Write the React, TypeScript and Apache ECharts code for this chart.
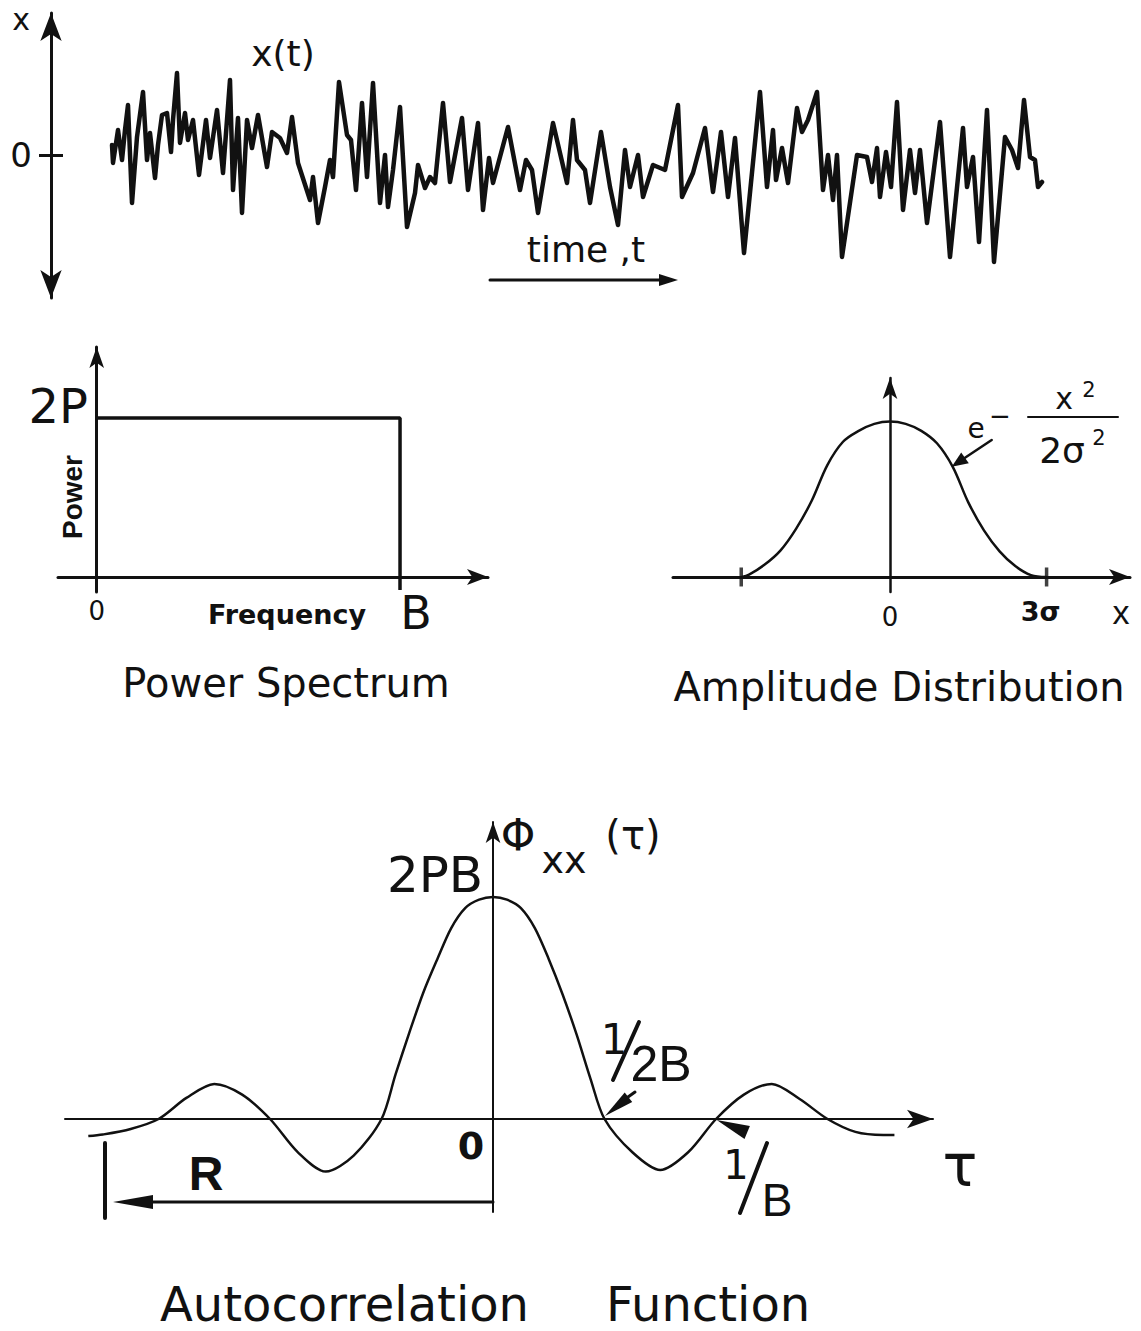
import React, { useEffect, useRef } from 'react';
import * as echarts from 'echarts';

// ---- Top panel: noise record x(t) (time in px-like units, amplitude around 0)
const noiseT = [2, 3, 8, 12, 15, 18, 22, 27, 33, 37, 40, 45, 48, 52, 57, 61, 63, 67, 70, 75, 78, 83, 89, 96, 100, 107, 113, 120, 123, 128, 132, 137, 142, 148, 157, 162, 170, 177, 182, 188, 200, 203, 208, 215, 220, 223, 229, 237, 241, 246, 252, 257, 263, 270, 275, 278, 283, 290, 297, 305, 308, 315, 320, 325, 333, 340, 352, 358, 368, 373, 379, 383, 398, 410, 416, 422, 428, 443, 457, 463, 467, 475, 480, 491, 500, 508, 515, 520, 528, 533, 543, 555, 568, 572, 583, 595, 603, 611, 618, 625, 634, 650, 657, 663, 666, 672, 678, 687, 692, 698, 707, 713, 718, 723, 727, 732, 747, 757, 762, 767, 770, 776, 781, 787, 793, 800, 805, 810, 817, 830, 840, 853, 857, 863, 869, 877, 884, 895, 902, 908, 914, 920, 925, 928, 932];
const noiseX = [10, -8, 25, -5, 25, 50, -48, 18, 63, -5, 22, -23, 10, 40, 42, 3, 35, 82, 12, 42, 15, 35, -20, 35, -3, 45, -18, 75, -35, 37, -58, 35, 7, 40, -12, 23, 17, 2, 38, -8, -45, -22, -68, -32, -5, -22, 73, 20, 15, -35, 52, -22, 72, -48, 0, -52, -15, 48, -72, -38, -10, -33, -22, -28, 52, -27, 37, -35, 32, -55, -3, -28, 28, -35, -5, -15, -58, 32, -28, 35, -5, -15, -48, 23, -32, -70, 5, -32, 0, -42, -10, -15, 50, -42, -18, 27, -37, 23, -42, 17, -98, 63, -32, 25, -25, 7, -28, 47, 23, 35, 63, -35, 0, -45, 0, -102, 0, -2, -27, 7, -42, 3, -32, 53, -55, 5, -38, 5, -68, 33, -102, 27, -32, -2, -87, 45, -107, 18, 5, -13, 55, -2, -5, -32, -27];
const noiseTickValues = [0];
const noiseTickLabels = ['0'];

// ---- Power spectrum (frequency in units of B, power in units of P)
const specFreq = [0, 1, 1];
const specPower = [2, 2, 0];
const specFreqTicks = [0, 1];
const specFreqLabels = ['0', 'B'];
const specPowerTicks = [2];
const specPowerLabels = ['2P'];

// ---- Amplitude distribution (x in units of sigma, density normalised to the peak)
const ampX = [-2.84, -2.7, -2.4, -2.1, -1.8, -1.5, -1.2, -0.9, -0.6, -0.3, 0, 0.3, 0.6, 0.9, 1.2, 1.5, 1.8, 2.1, 2.4, 2.7, 3.0];
const ampDensity = [0, 0.015, 0.08, 0.17, 0.31, 0.49, 0.72, 0.87, 0.94, 0.985, 1.0, 0.985, 0.94, 0.86, 0.71, 0.48, 0.3, 0.165, 0.07, 0.012, 0];
const ampTickMarks = [-2.85, 3];
const ampTickValues = [0, 3];
const ampTickLabels = ['0', '3σ'];

// ---- Autocorrelation (tau in units of 1/2B, phi normalised to 2PB)
const acTau = [-3.63, -3.5, -3.25, -3.0, -2.75, -2.5, -2.25, -2.0, -1.75, -1.5, -1.25, -1.0, -0.875, -0.75, -0.625, -0.5, -0.375, -0.25, -0.125, 0, 0.125, 0.25, 0.375, 0.5, 0.625, 0.75, 0.875, 1.0, 1.25, 1.5, 1.75, 2.0, 2.25, 2.5, 2.75, 3.0, 3.25, 3.5, 3.6];
const acPhi = [-0.077, -0.07, -0.045, 0, 0.095, 0.158, 0.11, 0, -0.15, -0.237, -0.165, 0, 0.2, 0.39, 0.57, 0.72, 0.86, 0.95, 0.988, 1.0, 0.988, 0.95, 0.86, 0.72, 0.56, 0.38, 0.18, 0, -0.15, -0.23, -0.15, 0, 0.11, 0.158, 0.09, 0, -0.058, -0.072, -0.072];

const BLACK = '#111111';
const DEJA = '"DejaVu Sans", "Liberation Sans", sans-serif';
const LIB = '"Liberation Sans", Arial, sans-serif';

const txt = (text: string, x: number, y: number, fontSize: number, opts: any = {}) => ({
  type: 'text',
  x,
  y,
  rotation: opts.rotation || 0,
  style: {
    text,
    fill: BLACK,
    fontSize,
    fontFamily: opts.family || DEJA,
    fontWeight: opts.weight || 'normal',
    align: opts.align || 'center',
    verticalAlign: 'middle',
  },
});
const seg = (x1: number, y1: number, x2: number, y2: number, w: number) => ({
  type: 'line',
  shape: { x1, y1, x2, y2 },
  style: { stroke: BLACK, lineWidth: w, lineCap: 'round' },
});
const tri = (pts: number[][]) => ({ type: 'polygon', shape: { points: pts }, style: { fill: BLACK } });

const pick = (vals: number[], labels: string[]) => (v: number) => {
  const i = vals.findIndex((d) => Math.abs(d - v) < 1e-6);
  return i >= 0 ? labels[i] : '';
};

export default function App() {
  const ref = useRef<HTMLDivElement>(null);
  useEffect(() => {
    document.body.style.margin = '0';
    if (!ref.current) return;
    const chart = echarts.init(ref.current, undefined, { renderer: 'svg' });
    const axisLineStyle = (w: number) => ({ color: BLACK, width: w });
    const option: any = {
      animation: false,
      backgroundColor: '#ffffff',
      grid: [
        { left: 110, top: 13, width: 935, height: 285, outerBoundsMode: 'none', containLabel: false },
        { left: 58, top: 347, width: 430, height: 245, outerBoundsMode: 'none', containLabel: false },
        { left: 673, top: 378, width: 457, height: 214, outerBoundsMode: 'none', containLabel: false },
        { left: 65, top: 822, width: 868, height: 390, outerBoundsMode: 'none', containLabel: false },
      ],
      xAxis: [
        { gridIndex: 0, type: 'value', min: 0, max: 935, show: false },
        {
          gridIndex: 1, type: 'value', min: -0.1276, max: 1.29,
          axisLine: { show: true, onZero: true, lineStyle: axisLineStyle(3), symbol: ['none', 'arrow'], symbolSize: [12, 21] },
          axisTick: { show: true, customValues: [1], length: 13, lineStyle: { color: BLACK, width: 3.5 } },
          axisLabel: {
            show: true, customValues: specFreqTicks, margin: -2,
            formatter: (v: number) => {
              const l = pick(specFreqTicks, specFreqLabels)(v);
              return l === 'B' ? '{b|' + l + '}' : '{s|' + l + '}';
            },
            rich: {
              s: { fontSize: 26, fontFamily: DEJA, color: BLACK, padding: [8, 0, 0, 0] },
              b: { fontSize: 46, fontFamily: DEJA, color: BLACK, padding: [0, 0, 0, 32] },
            },
          },
          splitLine: { show: false },
        },
        {
          gridIndex: 2, type: 'value', min: -4.157, max: 4.598,
          axisLine: { show: true, onZero: true, lineStyle: axisLineStyle(3), symbol: ['none', 'arrow'], symbolSize: [12, 21] },
          axisTick: { show: false },
          axisLabel: {
            show: true, customValues: ampTickValues, margin: 6,
            formatter: (v: number) => {
              const l = pick(ampTickValues, ampTickLabels)(v);
              return l === '0' ? '{n|' + l + '}' : '{b|' + l + '}';
            },
            rich: {
              n: { fontSize: 26, fontFamily: DEJA, color: BLACK, padding: [6, 0, 0, 0] },
              b: { fontSize: 27, fontFamily: DEJA, fontWeight: 'bold', color: BLACK, padding: [0, 12, 0, 0] },
            },
          },
          splitLine: { show: false },
        },
        {
          gridIndex: 3, type: 'value', min: -3.839, max: 3.946,
          axisLine: { show: true, onZero: true, lineStyle: axisLineStyle(2), symbol: ['none', 'arrow'], symbolSize: [14, 26] },
          axisTick: { show: false },
          axisLabel: { show: false },
          splitLine: { show: false },
        },
      ],
      yAxis: [
        {
          gridIndex: 0, type: 'value', min: -143, max: 142, position: 'left', offset: 59,
          axisLine: { show: true, onZero: false, lineStyle: axisLineStyle(3), symbol: ['arrow', 'arrow'], symbolSize: [16, 28] },
          axisTick: { show: true, customValues: noiseTickValues, length: 12, lineStyle: { color: BLACK, width: 3 } },
          axisLabel: {
            show: true, customValues: noiseTickValues, margin: 19, fontSize: 34, fontFamily: DEJA, color: BLACK,
            formatter: pick(noiseTickValues, noiseTickLabels),
          },
          splitLine: { show: false },
        },
        {
          gridIndex: 0, type: 'value', min: -143, max: 142, position: 'left', offset: 59,
          axisLine: { show: false, onZero: false },
          axisTick: { show: true, inside: true, customValues: noiseTickValues, length: 12, lineStyle: { color: BLACK, width: 3 } },
          axisLabel: { show: false },
          splitLine: { show: false },
        },
        {
          gridIndex: 1, type: 'value', min: -0.189, max: 2.893,
          axisLine: { show: true, onZero: true, lineStyle: axisLineStyle(3), symbol: ['none', 'arrow'], symbolSize: [11, 21] },
          axisTick: { show: false },
          axisLabel: {
            show: true, customValues: specPowerTicks, margin: -30,
            formatter: (v: number) => '{p|' + pick(specPowerTicks, specPowerLabels)(v) + '}',
            rich: { p: { fontSize: 48, fontFamily: DEJA, color: BLACK, padding: [0, 0, 24, 0] } },
          },
          splitLine: { show: false },
        },
        {
          gridIndex: 2, type: 'value', min: -0.0966, max: 1.28,
          axisLine: { show: true, onZero: true, lineStyle: axisLineStyle(2.5), symbol: ['none', 'arrow'], symbolSize: [11, 21] },
          axisTick: { show: false },
          axisLabel: { show: false },
          splitLine: { show: false },
        },
        {
          gridIndex: 3, type: 'value', min: -0.419, max: 1.338,
          axisLine: { show: true, onZero: true, lineStyle: axisLineStyle(2), symbol: ['none', 'arrow'], symbolSize: [11, 21] },
          axisTick: { show: false },
          axisLabel: { show: false },
          splitLine: { show: false },
        },
      ],
      series: [
        {
          type: 'line', xAxisIndex: 0, yAxisIndex: 0, showSymbol: false, silent: true,
          data: noiseT.map((t, i) => [t, noiseX[i]]),
          lineStyle: { color: BLACK, width: 4.5, join: 'round', cap: 'round' },
        },
        {
          type: 'line', xAxisIndex: 1, yAxisIndex: 2, showSymbol: false, silent: true,
          data: specFreq.map((f, i) => [f, specPower[i]]),
          lineStyle: { color: BLACK, width: 3.5 },
        },
        {
          type: 'line', xAxisIndex: 2, yAxisIndex: 3, showSymbol: false, silent: true, smooth: 0.35,
          data: ampX.map((x, i) => [x, ampDensity[i]]),
          lineStyle: { color: BLACK, width: 2.5 },
        },
        {
          type: 'scatter', xAxisIndex: 2, yAxisIndex: 3, silent: true, symbol: 'rect', symbolSize: [3.5, 19],
          data: ampTickMarks.map((x) => [x, 0]),
          itemStyle: { color: BLACK },
        },
        {
          type: 'line', xAxisIndex: 3, yAxisIndex: 4, showSymbol: false, silent: true, smooth: 0.3,
          data: acTau.map((t, i) => [t, acPhi[i]]),
          lineStyle: { color: BLACK, width: 2.5 },
        },
      ],
      graphic: [
        // top panel
        txt('x', 21, 19, 30),
        txt('x(t)', 283, 53, 36),
        txt('time ,t', 586, 249, 36),
        seg(490, 280, 662, 280, 3),
        tri([[678, 280], [659, 274], [659, 286]]),
        // power spectrum
        txt('Power', 72, 497, 28, { family: LIB, weight: 'bold', rotation: Math.PI / 2 }),
        txt('Frequency', 287, 614, 27, { weight: 'bold' }),
        txt('Power Spectrum', 286, 683, 40),
        // amplitude distribution
        txt('x', 1121, 612, 34, { family: LIB }),
        txt('e', 976, 428, 28),
        txt('−', 1000, 416, 26),
        seg(1028, 417, 1118, 417, 2),
        txt('x', 1064, 398, 30),
        txt('2', 1089, 390, 21),
        txt('2σ', 1062, 450, 36),
        txt('2', 1099, 438, 21),
        seg(991.7, 440, 965, 457.8, 2.5),
        tri([[951.7, 466.7], [968.8, 463.2], [961.2, 452.4]]),
        txt('Amplitude Distribution', 899, 687, 40),
        // autocorrelation
        txt('2PB', 435, 875, 50),
        txt('Φ', 518, 835, 44),
        txt('xx', 564, 860, 38),
        txt('(τ)', 633, 835, 40),
        txt('0', 471, 1146, 38, { weight: 'bold' }),
        txt('1', 614, 1039, 42),
        seg(613, 1080, 639, 1022, 4),
        txt('2B', 661, 1064, 50, { family: LIB }),
        tri([[605, 1116], [632.2, 1102], [624.7, 1092.6]]),
        seg(628, 1097, 635, 1092, 3),
        txt('1', 736, 1165, 40),
        seg(740, 1213, 767, 1143, 4),
        txt('B', 777, 1200, 46, { family: LIB }),
        tri([[716.7, 1120], [749.9, 1126.1], [744.5, 1139.1]]),
        txt('τ', 960, 1166, 58),
        seg(493, 1202, 150, 1202, 3),
        tri([[113, 1202], [153, 1195], [153, 1209]]),
        seg(105, 1143, 105, 1218, 4),
        txt('R', 206, 1173, 48, { family: LIB, weight: 'bold' }),
        txt('Autocorrelation', 160, 1304, 48, { align: 'left' }),
        txt('Function', 606, 1304, 48, { align: 'left' }),
      ],
    };
    chart.setOption(option);
    return () => chart.dispose();
  }, []);
  return <div ref={ref} style={{ width: 1141, height: 1331 }} />;
}
